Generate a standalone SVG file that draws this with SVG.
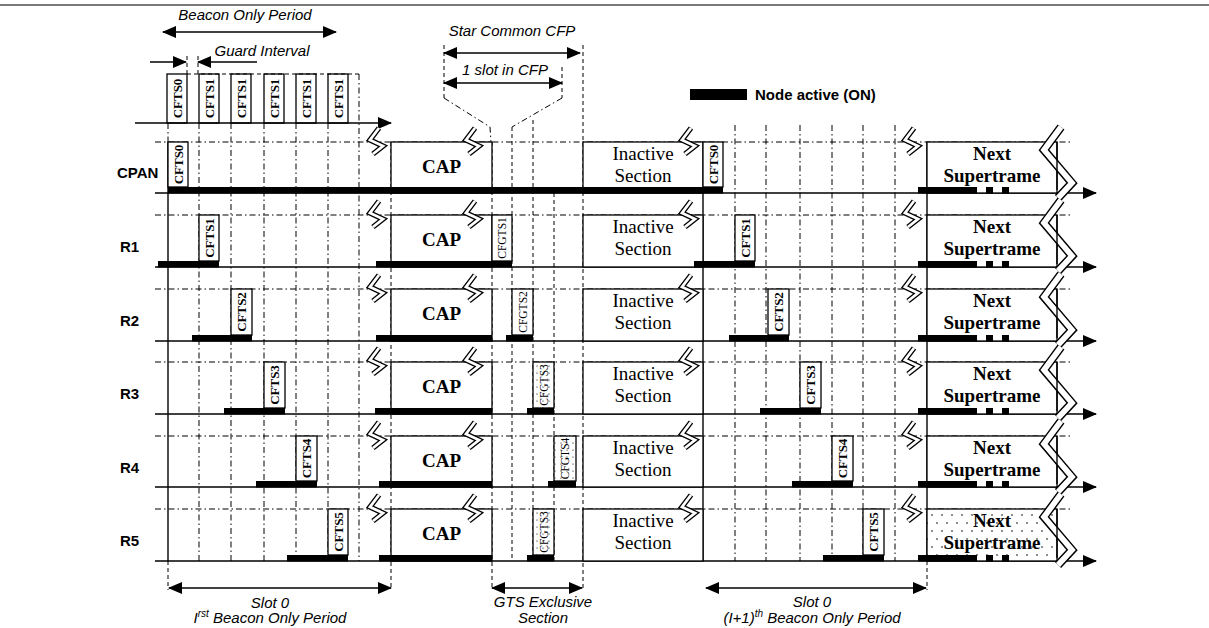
<svg xmlns="http://www.w3.org/2000/svg" width="1209" height="628" viewBox="0 0 1209 628">
<style>
.dd{stroke:#000;stroke-width:1;fill:none;stroke-dasharray:6 3 1.5 3}
.ds{stroke:#000;stroke-width:1;fill:none;stroke-dasharray:4 3}
.sl{stroke:#000;stroke-width:1.4;fill:none}
.ax{stroke:#000;stroke-width:1.6;fill:none}
.box{fill:#fff;stroke:#000;stroke-width:1.3}
.bar{fill:#000}
.lbl{font-family:"Liberation Sans",Arial,sans-serif;font-weight:bold;font-size:15px;fill:#000}
.it{font-family:"Liberation Sans",Arial,sans-serif;font-style:italic;font-size:15px;fill:#000}
.ser{font-family:"Liberation Serif","Times New Roman",serif;font-size:19px;fill:#000;text-anchor:middle}
.serb{font-family:"Liberation Serif","Times New Roman",serif;font-size:19px;font-weight:bold;fill:#000;text-anchor:middle}
.cf{font-family:"Liberation Serif","Times New Roman",serif;font-size:13px;font-weight:bold;fill:#000;text-anchor:middle}
.cg{font-family:"Liberation Serif","Times New Roman",serif;font-size:11.5px;fill:#000;text-anchor:middle}
.mid{text-anchor:middle}
</style>
<defs>
<marker id="ah" markerUnits="userSpaceOnUse" markerWidth="14" markerHeight="12" refX="13" refY="6" orient="auto-start-reverse">
<path d="M0,0 L14,6 L0,12 Z" fill="#000"/>
</marker>
<g id="zig">
<path d="M3,-13 L-6,-1 L7,5 L-3,13" fill="none" stroke="#000" stroke-width="5.4" stroke-linejoin="miter"/>
<path d="M3,-13 L-6,-1 L7,5 L-3,13" fill="none" stroke="#fff" stroke-width="2.8" stroke-linejoin="miter"/>
</g>
<g id="chev">
<path d="M3,-15 L-14,8 L14,41 L0,56" fill="none" stroke="#000" stroke-width="8.5" stroke-linejoin="miter"/>
<path d="M3,-15 L-14,8 L14,41 L0,56" fill="none" stroke="#fff" stroke-width="5.6" stroke-linejoin="miter"/>
</g>
<pattern id="dots" width="10" height="16" patternUnits="userSpaceOnUse">
<rect width="10" height="16" fill="#fff"/>
<circle cx="2" cy="3" r="0.8" fill="#000"/>
<circle cx="7" cy="11" r="0.8" fill="#000"/>
</pattern>
<pattern id="dots2" width="6" height="7" patternUnits="userSpaceOnUse">
<rect width="6" height="7" fill="#fff"/>
<circle cx="3" cy="2" r="0.6" fill="#000"/>
</pattern>
</defs>

<rect width="1209" height="628" fill="#fff"/>
<line x1="0" y1="5" x2="1209" y2="5" stroke="#7a7a7a" stroke-width="2"/>

<g id="grid">
<line class="dd" x1="155" y1="142" x2="1073" y2="142"/>
<line class="dd" x1="155" y1="215" x2="1073" y2="215"/>
<line class="dd" x1="155" y1="289" x2="1073" y2="289"/>
<line class="dd" x1="155" y1="362" x2="1073" y2="362"/>
<line class="dd" x1="155" y1="436" x2="1073" y2="436"/>
<line class="dd" x1="155" y1="509" x2="1073" y2="509"/>
<line class="dd" x1="168" y1="123" x2="168" y2="142"/>
<line class="dd" x1="199" y1="123" x2="199" y2="561"/>
<line class="dd" x1="231" y1="123" x2="231" y2="561"/>
<line class="dd" x1="264" y1="123" x2="264" y2="561"/>
<line class="dd" x1="296" y1="123" x2="296" y2="561"/>
<line class="dd" x1="328" y1="123" x2="328" y2="561"/>
<line class="dd" x1="359" y1="74" x2="359" y2="561"/>
<line class="dd" x1="735" y1="125" x2="735" y2="561"/>
<line class="dd" x1="766" y1="125" x2="766" y2="561"/>
<line class="dd" x1="800" y1="125" x2="800" y2="561"/>
<line class="dd" x1="832" y1="125" x2="832" y2="561"/>
<line class="dd" x1="863" y1="125" x2="863" y2="561"/>
<line class="dd" x1="895" y1="125" x2="895" y2="561"/>
<line class="ds" x1="512" y1="127" x2="512" y2="561"/>
<line class="ds" x1="533" y1="120" x2="533" y2="561"/>
<line class="ds" x1="554" y1="193" x2="554" y2="561"/>
<line class="ds" x1="391" y1="142" x2="391" y2="590"/>
<line class="ds" x1="492" y1="142" x2="492" y2="590"/>
<line class="ds" x1="583" y1="45" x2="583" y2="590"/>
<line class="ds" x1="168" y1="561" x2="168" y2="590"/>
<line class="ds" x1="927" y1="561" x2="927" y2="590"/>
<line class="ds" x1="444" y1="45" x2="444" y2="98"/>
<line class="ds" x1="562" y1="67" x2="562" y2="98"/>
<polyline class="dd" points="444,98 490,127 491,142"/>
<polyline class="dd" points="562,98 512,127"/>
<line class="sl" x1="168" y1="142" x2="168" y2="561"/>
<line class="sl" x1="703" y1="142" x2="703" y2="561"/>
<line class="sl" x1="927" y1="142" x2="927" y2="561"/>
</g>

<g id="beacon-row">
<rect class="box" x="167" y="74" width="20" height="49"/>
<rect class="box" x="199" y="74" width="20" height="49"/>
<rect class="box" x="231" y="74" width="20" height="49"/>
<rect class="box" x="264" y="74" width="20" height="49"/>
<rect class="box" x="296" y="74" width="20" height="49"/>
<rect class="box" x="328" y="74" width="20" height="49"/>
<line class="ds" x1="187" y1="74" x2="359" y2="74"/>
<text class="cf" transform="translate(177,98.5) rotate(-90)" y="4.5">CFTS0</text>
<text class="cf" transform="translate(209,98.5) rotate(-90)" y="4.5">CFTS1</text>
<text class="cf" transform="translate(241,98.5) rotate(-90)" y="4.5">CFTS1</text>
<text class="cf" transform="translate(274,98.5) rotate(-90)" y="4.5">CFTS1</text>
<text class="cf" transform="translate(306,98.5) rotate(-90)" y="4.5">CFTS1</text>
<text class="cf" transform="translate(338,98.5) rotate(-90)" y="4.5">CFTS1</text>
</g>

<g id="connectors">
<line class="ax" x1="135" y1="123" x2="391" y2="123" marker-end="url(#ah)"/>
<line class="ax" x1="155" y1="193" x2="1096" y2="193" marker-end="url(#ah)"/>
<line class="ax" x1="155" y1="267" x2="1096" y2="267" marker-end="url(#ah)"/>
<line class="ax" x1="155" y1="341" x2="1096" y2="341" marker-end="url(#ah)"/>
<line class="ax" x1="155" y1="414" x2="1096" y2="414" marker-end="url(#ah)"/>
<line class="ax" x1="155" y1="487" x2="1096" y2="487" marker-end="url(#ah)"/>
<line class="ax" x1="155" y1="561" x2="1096" y2="561" marker-end="url(#ah)"/>
<line class="sl" x1="163" y1="32" x2="336" y2="32" marker-start="url(#ah)" marker-end="url(#ah)"/>
<line class="sl" x1="150" y1="62" x2="186" y2="62" marker-end="url(#ah)"/>
<line class="sl" x1="257" y1="62" x2="198" y2="62" marker-end="url(#ah)"/>
<line class="ds" x1="187" y1="56" x2="187" y2="74"/>
<line class="ds" x1="198" y1="56" x2="198" y2="74"/>
<line class="sl" x1="444" y1="53" x2="580" y2="53" marker-start="url(#ah)" marker-end="url(#ah)"/>
<line class="sl" x1="444" y1="83" x2="562" y2="83" marker-start="url(#ah)" marker-end="url(#ah)"/>
<line class="sl" x1="169" y1="588" x2="391" y2="588" marker-start="url(#ah)" marker-end="url(#ah)"/>
<line class="sl" x1="492" y1="588" x2="582" y2="588" marker-start="url(#ah)" marker-end="url(#ah)"/>
<line class="sl" x1="706" y1="588" x2="926" y2="588" marker-start="url(#ah)" marker-end="url(#ah)"/>
</g>

<g id="node-CPAN">
<text class="lbl" x="117" y="178">CPAN</text>
<rect class="box" x="168" y="142" width="20" height="45"/>
<text class="cf" transform="translate(178,164.5) rotate(-90)" y="4.5">CFTS0</text>
<rect class="box" x="391" y="142" width="101" height="51"/>
<text class="serb" x="441.5" y="173">CAP</text>
<rect class="box" x="583" y="142" width="120" height="51"/>
<text class="ser" x="643" y="160">Inactive</text>
<text class="ser" x="643" y="181.5">Section</text>
<rect class="box" x="703" y="142" width="20" height="45"/>
<text class="cf" transform="translate(713,164.5) rotate(-90)" y="4.5">CFTS0</text>
<rect class="box" x="927" y="142" width="130" height="51"/>
<text class="serb" x="992" y="159.5">Next</text>
<text class="serb" x="992" y="182">Supertrame</text>
<use href="#chev" x="1058" y="142"/>
<line class="sl" x1="1057" y1="142" x2="1057" y2="190"/>
<rect class="bar" x="168" y="187" width="555" height="6.5"/>
<rect class="bar" x="918" y="187" width="59" height="6.5"/>
<rect class="bar" x="986" y="187" width="7" height="6.5"/>
<rect class="bar" x="1002" y="187" width="7" height="6.5"/>
<use href="#zig" x="376" y="141"/>
<use href="#zig" x="472" y="141"/>
<use href="#zig" x="688" y="141"/>
<use href="#zig" x="911" y="141"/>
</g>

<g id="node-R1">
<text class="lbl" x="120" y="252">R1</text>
<rect class="box" x="199" y="215" width="20" height="46"/>
<text class="cf" transform="translate(209,238) rotate(-90)" y="4.5">CFTS1</text>
<rect class="box" x="391" y="215" width="101" height="52"/>
<text class="serb" x="441.5" y="246">CAP</text>
<rect class="box" x="492" y="215" width="20" height="46"/>
<text class="cg" transform="translate(502,238) rotate(-90)" y="4">CFGTS1</text>
<rect class="box" x="583" y="215" width="120" height="52"/>
<text class="ser" x="643" y="233">Inactive</text>
<text class="ser" x="643" y="254.5">Section</text>
<rect class="box" x="735" y="215" width="20" height="46"/>
<text class="cf" transform="translate(745,238) rotate(-90)" y="4.5">CFTS1</text>
<rect class="box" x="927" y="215" width="130" height="52"/>
<text class="serb" x="992" y="232.5">Next</text>
<text class="serb" x="992" y="255">Supertrame</text>
<use href="#chev" x="1058" y="215"/>
<line class="sl" x1="1057" y1="215" x2="1057" y2="264"/>
<rect class="bar" x="158" y="261" width="61" height="6.5"/>
<rect class="bar" x="376" y="261" width="136" height="6.5"/>
<rect class="bar" x="694" y="261" width="61" height="6.5"/>
<rect class="bar" x="918" y="261" width="59" height="6.5"/>
<rect class="bar" x="986" y="261" width="7" height="6.5"/>
<rect class="bar" x="1002" y="261" width="7" height="6.5"/>
<use href="#zig" x="376" y="214"/>
<use href="#zig" x="472" y="214"/>
<use href="#zig" x="688" y="214"/>
<use href="#zig" x="911" y="214"/>
</g>

<g id="node-R2">
<text class="lbl" x="120" y="326">R2</text>
<rect class="box" x="231" y="289" width="21" height="46"/>
<text class="cf" transform="translate(241.5,312) rotate(-90)" y="4.5">CFTS2</text>
<rect class="box" x="391" y="289" width="101" height="52"/>
<text class="serb" x="441.5" y="320">CAP</text>
<rect class="box" x="512" y="289" width="21" height="46"/>
<text class="cg" transform="translate(522.5,312) rotate(-90)" y="4">CFGTS2</text>
<rect class="box" x="583" y="289" width="120" height="52"/>
<text class="ser" x="643" y="307">Inactive</text>
<text class="ser" x="643" y="328.5">Section</text>
<rect class="box" x="768" y="289" width="21" height="46"/>
<text class="cf" transform="translate(778.5,312) rotate(-90)" y="4.5">CFTS2</text>
<rect class="box" x="927" y="289" width="130" height="52"/>
<text class="serb" x="992" y="306.5">Next</text>
<text class="serb" x="992" y="329">Supertrame</text>
<use href="#chev" x="1058" y="289"/>
<line class="sl" x1="1057" y1="289" x2="1057" y2="338"/>
<rect class="bar" x="192" y="335" width="60" height="6.5"/>
<rect class="bar" x="376" y="335" width="116" height="6.5"/>
<rect class="bar" x="506" y="335" width="27" height="6.5"/>
<rect class="bar" x="729" y="335" width="60" height="6.5"/>
<rect class="bar" x="918" y="335" width="59" height="6.5"/>
<rect class="bar" x="986" y="335" width="7" height="6.5"/>
<rect class="bar" x="1002" y="335" width="7" height="6.5"/>
<use href="#zig" x="376" y="288"/>
<use href="#zig" x="472" y="288"/>
<use href="#zig" x="688" y="288"/>
<use href="#zig" x="911" y="288"/>
</g>

<g id="node-R3">
<text class="lbl" x="120" y="399">R3</text>
<rect class="box" x="264" y="362" width="21" height="46"/>
<text class="cf" transform="translate(274.5,385) rotate(-90)" y="4.5">CFTS3</text>
<rect class="box" x="391" y="362" width="101" height="52"/>
<text class="serb" x="441.5" y="393">CAP</text>
<rect x="533" y="362" width="21" height="46" fill="url(#dots2)" stroke="#000" stroke-width="1.3"/>
<text class="cg" transform="translate(543.5,385) rotate(-90)" y="4">CFGTS3</text>
<rect class="box" x="583" y="362" width="120" height="52"/>
<text class="ser" x="643" y="380">Inactive</text>
<text class="ser" x="643" y="401.5">Section</text>
<rect class="box" x="800" y="362" width="21" height="46"/>
<text class="cf" transform="translate(810.5,385) rotate(-90)" y="4.5">CFTS3</text>
<rect class="box" x="927" y="362" width="130" height="52"/>
<text class="serb" x="992" y="379.5">Next</text>
<text class="serb" x="992" y="402">Supertrame</text>
<use href="#chev" x="1058" y="362"/>
<line class="sl" x1="1057" y1="362" x2="1057" y2="411"/>
<rect class="bar" x="224" y="408" width="61" height="6.5"/>
<rect class="bar" x="375" y="408" width="117" height="6.5"/>
<rect class="bar" x="527" y="408" width="27" height="6.5"/>
<rect class="bar" x="760" y="408" width="61" height="6.5"/>
<rect class="bar" x="918" y="408" width="59" height="6.5"/>
<rect class="bar" x="986" y="408" width="7" height="6.5"/>
<rect class="bar" x="1002" y="408" width="7" height="6.5"/>
<use href="#zig" x="376" y="361"/>
<use href="#zig" x="472" y="361"/>
<use href="#zig" x="688" y="361"/>
<use href="#zig" x="911" y="361"/>
</g>

<g id="node-R4">
<text class="lbl" x="120" y="473">R4</text>
<rect class="box" x="296" y="436" width="21" height="45"/>
<text class="cf" transform="translate(306.5,458.5) rotate(-90)" y="4.5">CFTS4</text>
<rect class="box" x="391" y="436" width="101" height="51"/>
<text class="serb" x="441.5" y="467">CAP</text>
<rect x="554" y="436" width="22" height="45" fill="url(#dots2)" stroke="#000" stroke-width="1.3"/>
<text class="cg" transform="translate(565,458.5) rotate(-90)" y="4">CFGTS4</text>
<rect class="box" x="583" y="436" width="120" height="51"/>
<text class="ser" x="643" y="454">Inactive</text>
<text class="ser" x="643" y="475.5">Section</text>
<rect class="box" x="832" y="436" width="21" height="45"/>
<text class="cf" transform="translate(842.5,458.5) rotate(-90)" y="4.5">CFTS4</text>
<rect class="box" x="927" y="436" width="130" height="51"/>
<text class="serb" x="992" y="453.5">Next</text>
<text class="serb" x="992" y="476">Supertrame</text>
<use href="#chev" x="1058" y="436"/>
<line class="sl" x1="1057" y1="436" x2="1057" y2="484"/>
<rect class="bar" x="256" y="481" width="61" height="6.5"/>
<rect class="bar" x="379" y="481" width="113" height="6.5"/>
<rect class="bar" x="548" y="481" width="28" height="6.5"/>
<rect class="bar" x="792" y="481" width="61" height="6.5"/>
<rect class="bar" x="918" y="481" width="59" height="6.5"/>
<rect class="bar" x="986" y="481" width="7" height="6.5"/>
<rect class="bar" x="1002" y="481" width="7" height="6.5"/>
<use href="#zig" x="376" y="435"/>
<use href="#zig" x="472" y="435"/>
<use href="#zig" x="688" y="435"/>
<use href="#zig" x="911" y="435"/>
</g>

<g id="node-R5">
<text class="lbl" x="120" y="546">R5</text>
<rect class="box" x="328" y="509" width="20" height="46"/>
<text class="cf" transform="translate(338,532) rotate(-90)" y="4.5">CFTS5</text>
<rect class="box" x="391" y="509" width="101" height="52"/>
<text class="serb" x="441.5" y="540">CAP</text>
<rect x="533" y="509" width="21" height="46" fill="url(#dots2)" stroke="#000" stroke-width="1.3"/>
<text class="cg" transform="translate(543.5,532) rotate(-90)" y="4">CFGTS3</text>
<rect class="box" x="583" y="509" width="120" height="52"/>
<text class="ser" x="643" y="527">Inactive</text>
<text class="ser" x="643" y="548.5">Section</text>
<rect class="box" x="863" y="509" width="21" height="46"/>
<text class="cf" transform="translate(873.5,532) rotate(-90)" y="4.5">CFTS5</text>
<rect x="927" y="509" width="130" height="52" fill="url(#dots)" stroke="#000" stroke-width="1.3"/>
<text class="serb" x="992" y="526.5">Next</text>
<text class="serb" x="992" y="549">Supertrame</text>
<use href="#chev" x="1058" y="509"/>
<line class="sl" x1="1057" y1="509" x2="1057" y2="558"/>
<rect class="bar" x="287" y="555" width="61" height="6.5"/>
<rect class="bar" x="379" y="555" width="113" height="6.5"/>
<rect class="bar" x="527" y="555" width="27" height="6.5"/>
<rect class="bar" x="823" y="555" width="61" height="6.5"/>
<rect class="bar" x="918" y="555" width="59" height="6.5"/>
<rect class="bar" x="986" y="555" width="7" height="6.5"/>
<rect class="bar" x="1002" y="555" width="7" height="6.5"/>
<use href="#zig" x="376" y="508"/>
<use href="#zig" x="472" y="508"/>
<use href="#zig" x="688" y="508"/>
<use href="#zig" x="911" y="508"/>
</g>

<g id="legend">
<rect class="bar" x="690" y="89" width="57" height="11"/>
<text class="lbl" x="755" y="100">Node active (ON)</text>
</g>

<g id="annotations">
<text class="it mid" x="245" y="20">Beacon Only Period</text>
<text class="it mid" x="262" y="56">Guard Interval</text>
<text class="it mid" x="512" y="36">Star Common CFP</text>
<text class="it mid" x="505" y="75">1 slot in CFP</text>
<text class="it mid" x="270" y="608">Slot 0</text>
<text class="it mid" x="270" y="623">I<tspan font-size="10" dy="-6">rst</tspan><tspan dy="6"> Beacon Only Period</tspan></text>
<text class="it mid" x="543" y="607">GTS Exclusive</text>
<text class="it mid" x="543" y="623">Section</text>
<text class="it mid" x="812" y="607">Slot 0</text>
<text class="it mid" x="812" y="623">(I+1)<tspan font-size="10" dy="-6">th</tspan><tspan dy="6"> Beacon Only Period</tspan></text>
</g>
</svg>
